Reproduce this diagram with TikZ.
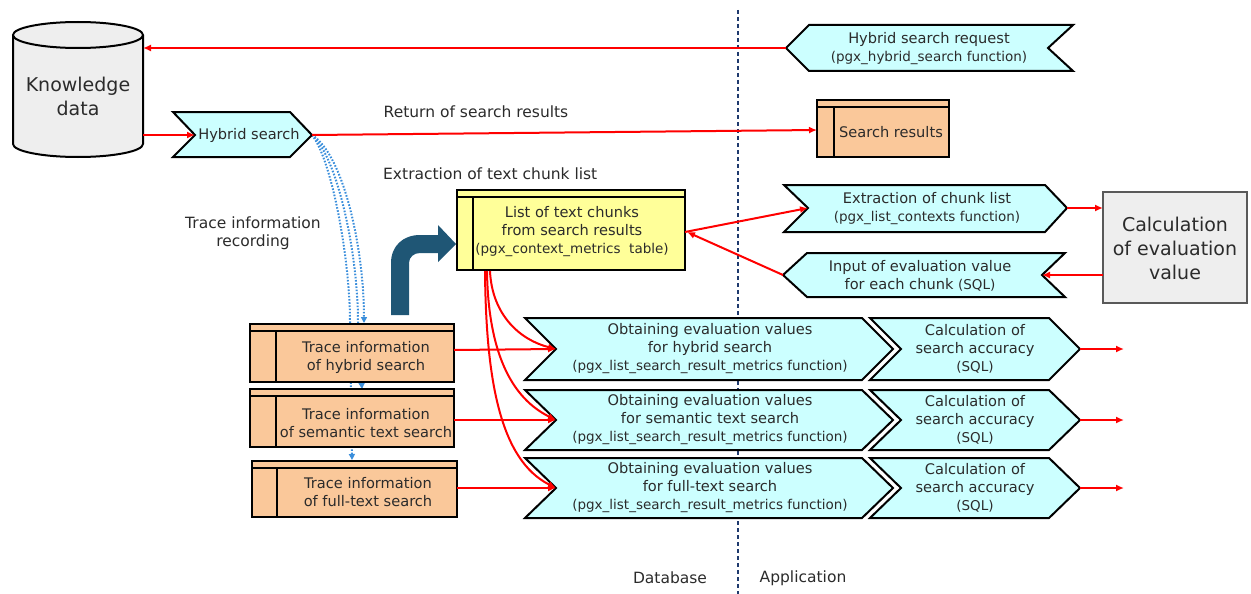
\documentclass[tikz,border=0pt]{standalone}
\usepackage{fontspec}
\setmainfont{DejaVu Sans}
\usetikzlibrary{arrows.meta}
\definecolor{cyanfill}{HTML}{CCFFFF}
\definecolor{peach}{HTML}{FAC89A}
\definecolor{lightyellow}{HTML}{FFFF99}
\definecolor{grayfill}{HTML}{EEEEEE}
\definecolor{darkarrow}{HTML}{1F5675}
\definecolor{navy}{HTML}{1F3A6E}
\definecolor{dotblue}{HTML}{3A8EDB}
\definecolor{txt}{HTML}{2B2B2B}
\newcommand\smtxt{\fontsize{13.5}{16}\selectfont}
\newcommand\tblbox[6]{%
  \filldraw[boxline,fill=#6] (#1,#2) rectangle (#3,#4);
  \draw[boxline] ({#1},{#2+7}) -- ({#3},{#2+7});
  \draw[boxline] ({#5},{#2+7}) -- ({#5},{#4});}
\begin{document}
\begin{tikzpicture}[x=1pt,y=-1pt,
  boxline/.style={draw=black,line width=2pt,line join=miter},
  redarrow/.style={draw=red,line width=2pt,-{Latex[length=8pt,width=7pt]}},
  bluedot/.style={draw=dotblue,line width=2pt,dash pattern=on 1.6pt off 1.6pt},
  bluetip/.style={-{Triangle[length=6pt,width=6pt]}},
  lbl/.style={text=txt,font=\fontsize{14.6}{18}\selectfont,align=center,inner sep=0pt},
  freelbl/.style={text=txt,font=\fontsize{15.5}{18}\selectfont,align=center,inner sep=0pt},
  big/.style={text=txt,font=\fontsize{19}{24}\selectfont,align=center,inner sep=0pt}]
\useasboundingbox (0,0) rectangle (1251,594);

% divider
\draw[navy,line width=1.6pt,dash pattern=on 4pt off 3pt] (738,10) -- (738,594);
\node[freelbl] (db) at (670,578) {Database};
\node[freelbl] (app) at (803,578) {Application};

% blue dotted trace curves (drawn first, boxes on top)
\coordinate (hsTip) at (312,135);
\coordinate (tr1top) at (364,323);
\coordinate (tr2top) at (362,389);
\coordinate (tr3top) at (352,460);
\draw[bluedot,bluetip] (hsTip) .. controls (332,160) and (350,260) .. (350,322) -- (tr3top);
\draw[bluedot,bluetip] (hsTip) .. controls (338,158) and (358,255) .. (358,322) -- (tr2top);
\draw[bluedot,bluetip] (hsTip) .. controls (344,155) and (364,250) .. (tr1top);

% knowledge data cylinder
\filldraw[boxline,fill=grayfill] (13,35) -- (13,144) arc[start angle=180,end angle=360,x radius=65pt,y radius=13pt] -- (143,35);
\filldraw[boxline,fill=grayfill] (78,35) ellipse[x radius=65pt,y radius=13pt];
\node[big] (kd) at (78,96) {Knowledge\\data};

% hybrid search request
\filldraw[boxline,fill=cyanfill] (786,48) -- (809,25) -- (1073,25) -- (1048,48) -- (1073,71) -- (809,71) -- cycle;
\node[lbl] (req) at (929,49) {Hybrid search request\\{\smtxt(pgx\_hybrid\_search function)}};
\coordinate (reqTip) at (786,48);
\coordinate (kdIn) at (143,48);
\draw[redarrow] (reqTip) -- (kdIn);

% hybrid search
\filldraw[boxline,fill=cyanfill] (173,112) -- (290,112) -- (312,135) -- (290,157) -- (173,157) -- (195,135) -- cycle;
\node[lbl] (hs) at (249,135) {Hybrid search};
\coordinate (kdOut) at (143,135);
\coordinate (hsNotch) at (195,135);
\draw[redarrow] (kdOut) -- (hsNotch);

% search results
\tblbox{817}{100}{949}{157}{834}{peach}
\node[lbl] (sr) at (891,132) {Search results};
\coordinate (srIn) at (817,130);
\draw[redarrow] (hsTip) -- (srIn);
\node[freelbl] (ret) at (476,112) {Return of search results};

% labels
\node[freelbl,anchor=west] (ext) at (383,174) {Extraction of text chunk list};
\node[freelbl] (trrec) at (253,233) {Trace information\\recording};

% yellow table
\tblbox{457}{190}{685}{270}{473}{lightyellow}
\node[lbl] (chunks) at (572,232) {List of text chunks\\from search results\\{\smtxt(pgx\_context\_metrics\ \ table)}};

% dark bent arrow
\fill[darkarrow] (391,315) -- (391,263) .. controls (391,246) and (403,235) .. (420,235) -- (438,235) -- (438,225) -- (456,244) -- (438,262) -- (438,253) -- (420,253) .. controls (414,253) and (409,257) .. (409,263) -- (409,315) -- cycle;

% extraction of chunk list
\filldraw[boxline,fill=cyanfill] (784,185) -- (1045,185) -- (1067,208) -- (1045,232) -- (784,232) -- (808,208) -- cycle;
\node[lbl] (exl) at (927,209) {Extraction of chunk list\\{\smtxt(pgx\_list\_contexts function)}};
% input of evaluation value
\filldraw[boxline,fill=cyanfill] (783,275) -- (807,253) -- (1065,253) -- (1042,275) -- (1065,297) -- (807,297) -- cycle;
\node[lbl] (inp) at (920,276) {Input of evaluation value\\for each chunk {\smtxt(SQL)}};
% calculation of evaluation value
\filldraw[draw=black!65,line width=1.2pt,fill=grayfill] (1103,192) rectangle (1247,303);
\node[big] (calc) at (1175,248) {Calculation\\of evaluation\\value};

\coordinate (yR) at (685,232);
\coordinate (yR2) at (687,232);
\coordinate (exNotch) at (808,208);
\coordinate (exTip) at (1067,208);
\coordinate (calcIn) at (1103,208);
\coordinate (calcOut) at (1103,275);
\coordinate (inNotch) at (1042,275);
\coordinate (inTip) at (783,275);
\draw[redarrow] (yR) -- (exNotch);
\draw[redarrow] (inTip) -- (yR2);
\draw[redarrow] (exTip) -- (calcIn);
\draw[redarrow] (calcOut) -- (inNotch);

% trace boxes
\tblbox{250}{324}{454}{382}{276}{peach}
\node[lbl] (tr1) at (366,357) {Trace information\\of hybrid search};
\tblbox{250}{389}{454}{447}{276}{peach}
\node[lbl] (tr2) at (366,423) {Trace information\\of semantic text search};
\tblbox{252}{461}{457}{517}{277}{peach}
\node[lbl] (tr3) at (368,492) {Trace information\\of full-text search};

% obtaining + calc accuracy rows
\foreach \r/\t/\b/\m/\txt in {1/318/380/349/for hybrid search, 2/390/450/420/for semantic text search, 3/458/518/488/for full-text search}{
  \filldraw[boxline,fill=cyanfill] (525,\t) -- (862,\t) -- (893,\m) -- (862,\b) -- (525,\b) -- (556,\m) -- cycle;
  \filldraw[boxline,fill=cyanfill] (870,\t) -- (1049,\t) -- (1080,\m) -- (1049,\b) -- (870,\b) -- (901,\m) -- cycle;
  \node[lbl] (ob\r) at (710,\m) {Obtaining evaluation values\\\txt\\{\smtxt(pgx\_list\_search\_result\_metrics function)}};
  \node[lbl] (ca\r) at (975,\m) {Calculation of\\search accuracy\\{\smtxt(SQL)}};
  \coordinate (obN\r) at (556,\m);
  \coordinate (caT\r) at (1080,\m);
  \coordinate (out\r) at (1124,\m);
  \draw[redarrow] (caT\r) -- (out\r);
}
\coordinate (tr1R) at (454,350);
\coordinate (tr2R) at (454,420);
\coordinate (tr3R) at (457,488);
\draw[redarrow] (tr1R) -- (obN1);
\draw[redarrow] (tr2R) -- (obN2);
\draw[redarrow] (tr3R) -- (obN3);

% curves from yellow table
\coordinate (yB1) at (490,271);
\coordinate (yB2) at (487,271);
\coordinate (yB3) at (485,271);
\draw[redarrow] (yB1) .. controls (492,315) and (520,340) .. (obN1);
\draw[redarrow] (yB2) .. controls (488,340) and (505,395) .. (obN2);
\draw[redarrow] (yB3) .. controls (486,380) and (500,460) .. (obN3);
\end{tikzpicture}
\end{document}
